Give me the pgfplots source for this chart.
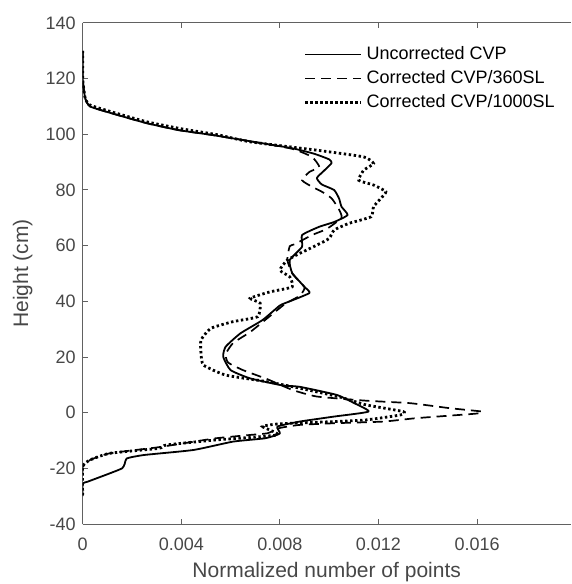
\documentclass[border=0pt]{standalone}
\usepackage{fontspec}
\setmainfont{Liberation Sans}
\usepackage{pgfplots}
\pgfplotsset{compat=1.18}
\definecolor{axgray}{gray}{0.38}
\definecolor{txtgray}{gray}{0.28}

\pgfplotstableread{
x y
0 130
0 120
0.0001 113
0.0003 110
0.0012 107.5
0.0026 104
0.0039 101.5
0.0053 99.7
0.0068 97.5
0.0085 95
0.0094 93
0.0100 91
0.0101 89.7
0.0098 87
0.0095 84.3
0.0097 82
0.0102 80
0.0104 77
0.0105 74
0.01075 71
0.0102 68.5
0.0096 66.8
0.0089 63.8
0.0089 59.6
0.0084 54.8
0.0085 50.2
0.0090 45.2
0.0092 43
0.0084 40
0.0080 38.5
0.0073 33.3
0.0064 28.5
0.0058 23.7
0.0057 20.1
0.0060 15.3
0.0068 12.3
0.0081 9.8
0.0088 9.3
0.0103 6.4
0.0110 3.5
0.0116 0.4
0.0102 -1.4
0.0088 -3.2
0.0079 -5
0.0080 -7.5
0.0074 -9.2
0.0061 -10.4
0.0045 -13.4
0.0025 -15.2
0.0018 -16.4
0.0017 -18.5
0.0016 -20
0.0011 -21.8
0.0002 -24.8
0 -25.5
0 -30
}\solid

\pgfplotstableread{
x y
0 130
0 120
0.0001 113
0.0003 110
0.0012 107.5
0.0026 104
0.0039 101.5
0.0053 99.7
0.0068 97.5
0.0085 94.8
0.0093 91.9
0.0096 88.3
0.0092 86.5
0.0089 83.5
0.0093 81.2
0.0097 79.4
0.0101 77
0.0104 73
0.0105 70
0.0099 66
0.0093 63.8
0.0086 60.5
0.0084 59.8
0.0083 55
0.0085 50
0.0090 45
0.0088 42
0.0082 39
0.0075 34
0.0068 29
0.0061 25
0.0058 21
0.0059 18
0.0065 15.3
0.0075 12
0.0085 8.2
0.0095 5.8
0.0115 4.3
0.0133 3.4
0.0149 1.6
0.0162 0.4
0.0160 -0.3
0.0153 -0.8
0.0135 -2
0.0122 -3.2
0.0102 -3.8
0.0088 -4.4
0.0080 -5.5
0.0075 -7.4
0.0068 -8
0.0054 -9.2
0.0041 -11
0.0030 -12.5
0.0011 -14.6
0.0003 -17
0 -19.5
0 -22
}\dashed

\pgfplotstableread{
x y
0 130
0 120
0.0001 113
0.0003 110.5
0.0012 108
0.0026 104.5
0.0040 102
0.0055 99.8
0.0068 97.3
0.0095 94.3
0.0114 91.9
0.0118 89.5
0.0114 87.1
0.0112 83.5
0.0118 81.8
0.0123 79.4
0.0121 77
0.0118 74
0.0117 70.4
0.0108 68
0.0102 65.6
0.0100 62.6
0.0095 60.2
0.0088 57.2
0.0083 54.8
0.0080 51.2
0.0084 48.8
0.0085 45.2
0.0076 43.4
0.0068 41.1
0.0072 39.3
0.0071 34.5
0.0061 32.7
0.0052 30.3
0.0048 26.1
0.0048 21.3
0.0049 17.1
0.0058 13.5
0.0075 11.1
0.0088 8.8
0.0104 5.7
0.0115 2.8
0.0130 0.4
0.0129 -0.8
0.0115 -2.6
0.0102 -3.2
0.0080 -4
0.0073 -5
0.0079 -8
0.0054 -9.8
0.0034 -11.6
0.0031 -12.8
0.0011 -14.6
0.0003 -17
0 -19.4
0 -29.5
}\dotted

\begin{document}
\begin{tikzpicture}
\begin{axis}[
  name=ax,
  scale only axis,
  width=244pt, height=250.5pt,
  xmin=0, xmax=0.0198,
  ymin=-40, ymax=140,
  axis x line=box, axis y line=left,
  axis line style={axgray, line width=0.5pt, -},
  every tick/.style={axgray, line width=0.5pt},
  tick align=inside,
  major tick length=2.5pt,
  xtick={0,0.004,0.008,0.012,0.016},
  xticklabels={0,0.004,0.008,0.012,0.016},
  ytick={-40,-20,0,20,40,60,80,100,120,140},
  yticklabels={-40,-20,0,20,40,60,80,100,120,140},
  scaled x ticks=false,
  tick label style={font=\fontsize{9}{11}\selectfont, text=txtgray},
  xticklabel style={yshift=-3.5pt},
  /pgf/number format/assume math mode=true,
  xlabel={Normalized number of points},
  ylabel={Height (cm)},
  label style={font=\fontsize{10.5}{12}\selectfont, text=txtgray},
  xlabel style={at={(axis description cs:0.5,-0.106)}, anchor=base},
  ylabel style={at={(axis description cs:-0.112,0.5)}, anchor=base},
  legend style={draw=none, fill=none, at={(0.44,0.97)}, anchor=north west,
    font=\fontsize{9}{11}\selectfont, text=black, row sep=0pt,
    /tikz/every even column/.append style={column sep=0pt}},
  legend cell align=left,
  legend image code/.code={\draw[#1] (0pt,0pt) -- (28pt,0pt);},
]
\addplot[black, line width=0.9pt, line join=round, smooth, tension=0.3] table {\solid};
\addlegendentry{Uncorrected CVP}
\addplot[black, line width=0.85pt, dash pattern=on 5pt off 3pt, smooth, tension=0.3] table {\dashed};
\addlegendentry{Corrected CVP/360SL}
\addplot[black, line width=1.4pt, dash pattern=on 1.2pt off 1.3pt, smooth, tension=0.3] table {\dotted};
\addlegendentry{Corrected CVP/1000SL}
\end{axis}
\pgfresetboundingbox
\useasboundingbox ([shift={(-41.35pt,-30pt)}]ax.south west) rectangle ([shift={(0.4pt,11.5pt)}]ax.north east);
\end{tikzpicture}
\end{document}
